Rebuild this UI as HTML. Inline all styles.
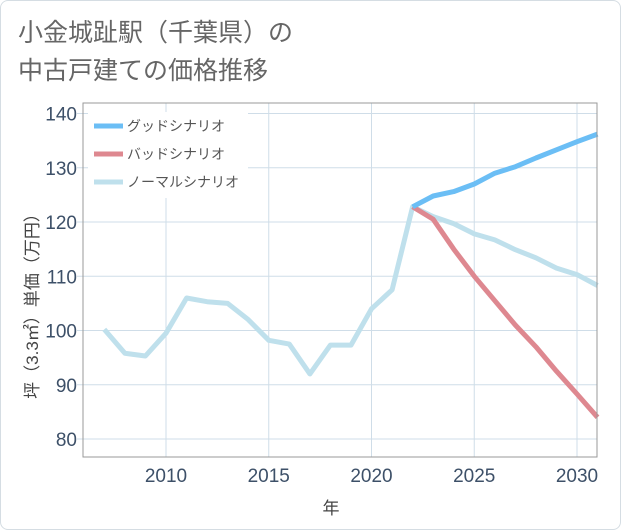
<!DOCTYPE html>
<html><head><meta charset="utf-8">
<style>
body{margin:0;background:#fff;}
#wrap{position:relative;width:619px;height:528px;border:1px solid #d5dde3;border-radius:8px;background:#fff;overflow:hidden;}
.t{font-family:"Liberation Sans","Noto Sans CJK JP",sans-serif;}
</style></head>
<body>
<div id="wrap">
<svg id="chart" width="621" height="530" style="position:absolute;left:-1px;top:-1px">
<text class="t" x="18" y="41" font-size="25" fill="#666">小金城趾駅（千葉県）の</text>
<text class="t" x="18" y="79" font-size="25" fill="#666">中古戸建ての価格推移</text>
<g id="grid"></g>
<g id="series"></g>
<rect x="83" y="103" width="514" height="354" fill="none" stroke="#999" stroke-width="1"/>
<g id="legend"></g>
<text class="t" x="331" y="514" font-size="17" fill="#444" text-anchor="middle">年</text>
<text class="t" transform="translate(38,302) rotate(-90)" font-size="17" fill="#444" text-anchor="middle">坪（3.3㎡）単価（万円）</text>
</svg>
</div>
<script>
const normalYears=[2007,2008,2009,2010,2011,2012,2013,2014,2015,2016,2017,2018,2019,2020,2021,2022,2023,2024,2025,2026,2027,2028,2029,2030,2031];
const normalValues=[100.2,95.8,95.3,99.5,106,105.3,105,102,98.2,97.5,92,97.3,97.3,104,107.5,122.8,121,119.7,117.8,116.7,114.9,113.4,111.5,110.3,108.3];
const scenarioYears=[2022,2023,2024,2025,2026,2027,2028,2029,2030,2031];
const goodValues=[122.8,124.8,125.6,127,129,130.2,131.8,133.3,134.8,136.2];
const badValues=[122.8,120.5,115,110,105.5,101,97,92.5,88.3,84];
const yTicks=[80,90,100,110,120,130,140];
const xTicks=[2010,2015,2020,2025,2030];
const NS="http://www.w3.org/2000/svg";
const X0=83,X1=597,Y0=103,Y1=457;
function xs(y){return 166+(y-2010)*20.55;}
function ys(v){return 439-(v-80)*5.425;}
function mk(tag,attrs,parent){const e=document.createElementNS(NS,tag);for(const k in attrs)e.setAttribute(k,attrs[k]);parent.appendChild(e);return e;}
const grid=document.getElementById('grid');
yTicks.forEach(v=>{
 const l=mk('line',{x1:X0,x2:X1,y1:ys(v),y2:ys(v),stroke:'#cfdde8','stroke-width':1},grid);
 
 
 const tk=mk('line',{x1:X0-6,x2:X0,y1:ys(v),y2:ys(v),stroke:'#cfdde8'},grid);
 
 
 const t=mk('text',{x:X0-6,y:ys(v)+7,'font-size':19,fill:'#3d5068','text-anchor':'end',class:'t'},grid);
 t.textContent=v;
 
 
});
xTicks.forEach(v=>{
 const l=mk('line',{x1:xs(v),x2:xs(v),y1:Y0,y2:Y1,stroke:'#cfdde8','stroke-width':1},grid);
 
 
 const t=mk('text',{x:xs(v),y:482,'font-size':19,fill:'#3d5068','text-anchor':'middle',class:'t'},grid);
 t.textContent=v;
 
 
});
const ser=document.getElementById('series');
function line(xsA,vals,color,name){
 const d=xsA.map((y,i)=>(i?'L':'M')+xs(y).toFixed(1)+','+ys(vals[i]).toFixed(1)).join(' ');
 const p=mk('path',{d:d,fill:'none',stroke:color,'stroke-width':5,'stroke-linejoin':'round'},ser);
 
 
}
line(normalYears,normalValues,'#bfe0ec','normal-scenario-line');
line(scenarioYears,badValues,'#de8890','bad-scenario-line');
line(scenarioYears,goodValues,'#6bbef5','good-scenario-line');
const lg=document.getElementById('legend');
const bg=mk('rect',{x:88,y:112,width:160,height:86,fill:'#fff'},lg);


[['グッドシナリオ','#6bbef5'],['バッドシナリオ','#de8890'],['ノーマルシナリオ','#bfe0ec']].forEach((e,i)=>{
 const y=126+i*28;
 const s=mk('line',{x1:94,x2:123,y1:y,y2:y,stroke:e[1],'stroke-width':5},lg);
 
 
 const t=mk('text',{x:127,y:y+5,'font-size':14,fill:'#555',class:'t'},lg);
 t.textContent=e[0];
 
 
});
</script>
</body></html>
